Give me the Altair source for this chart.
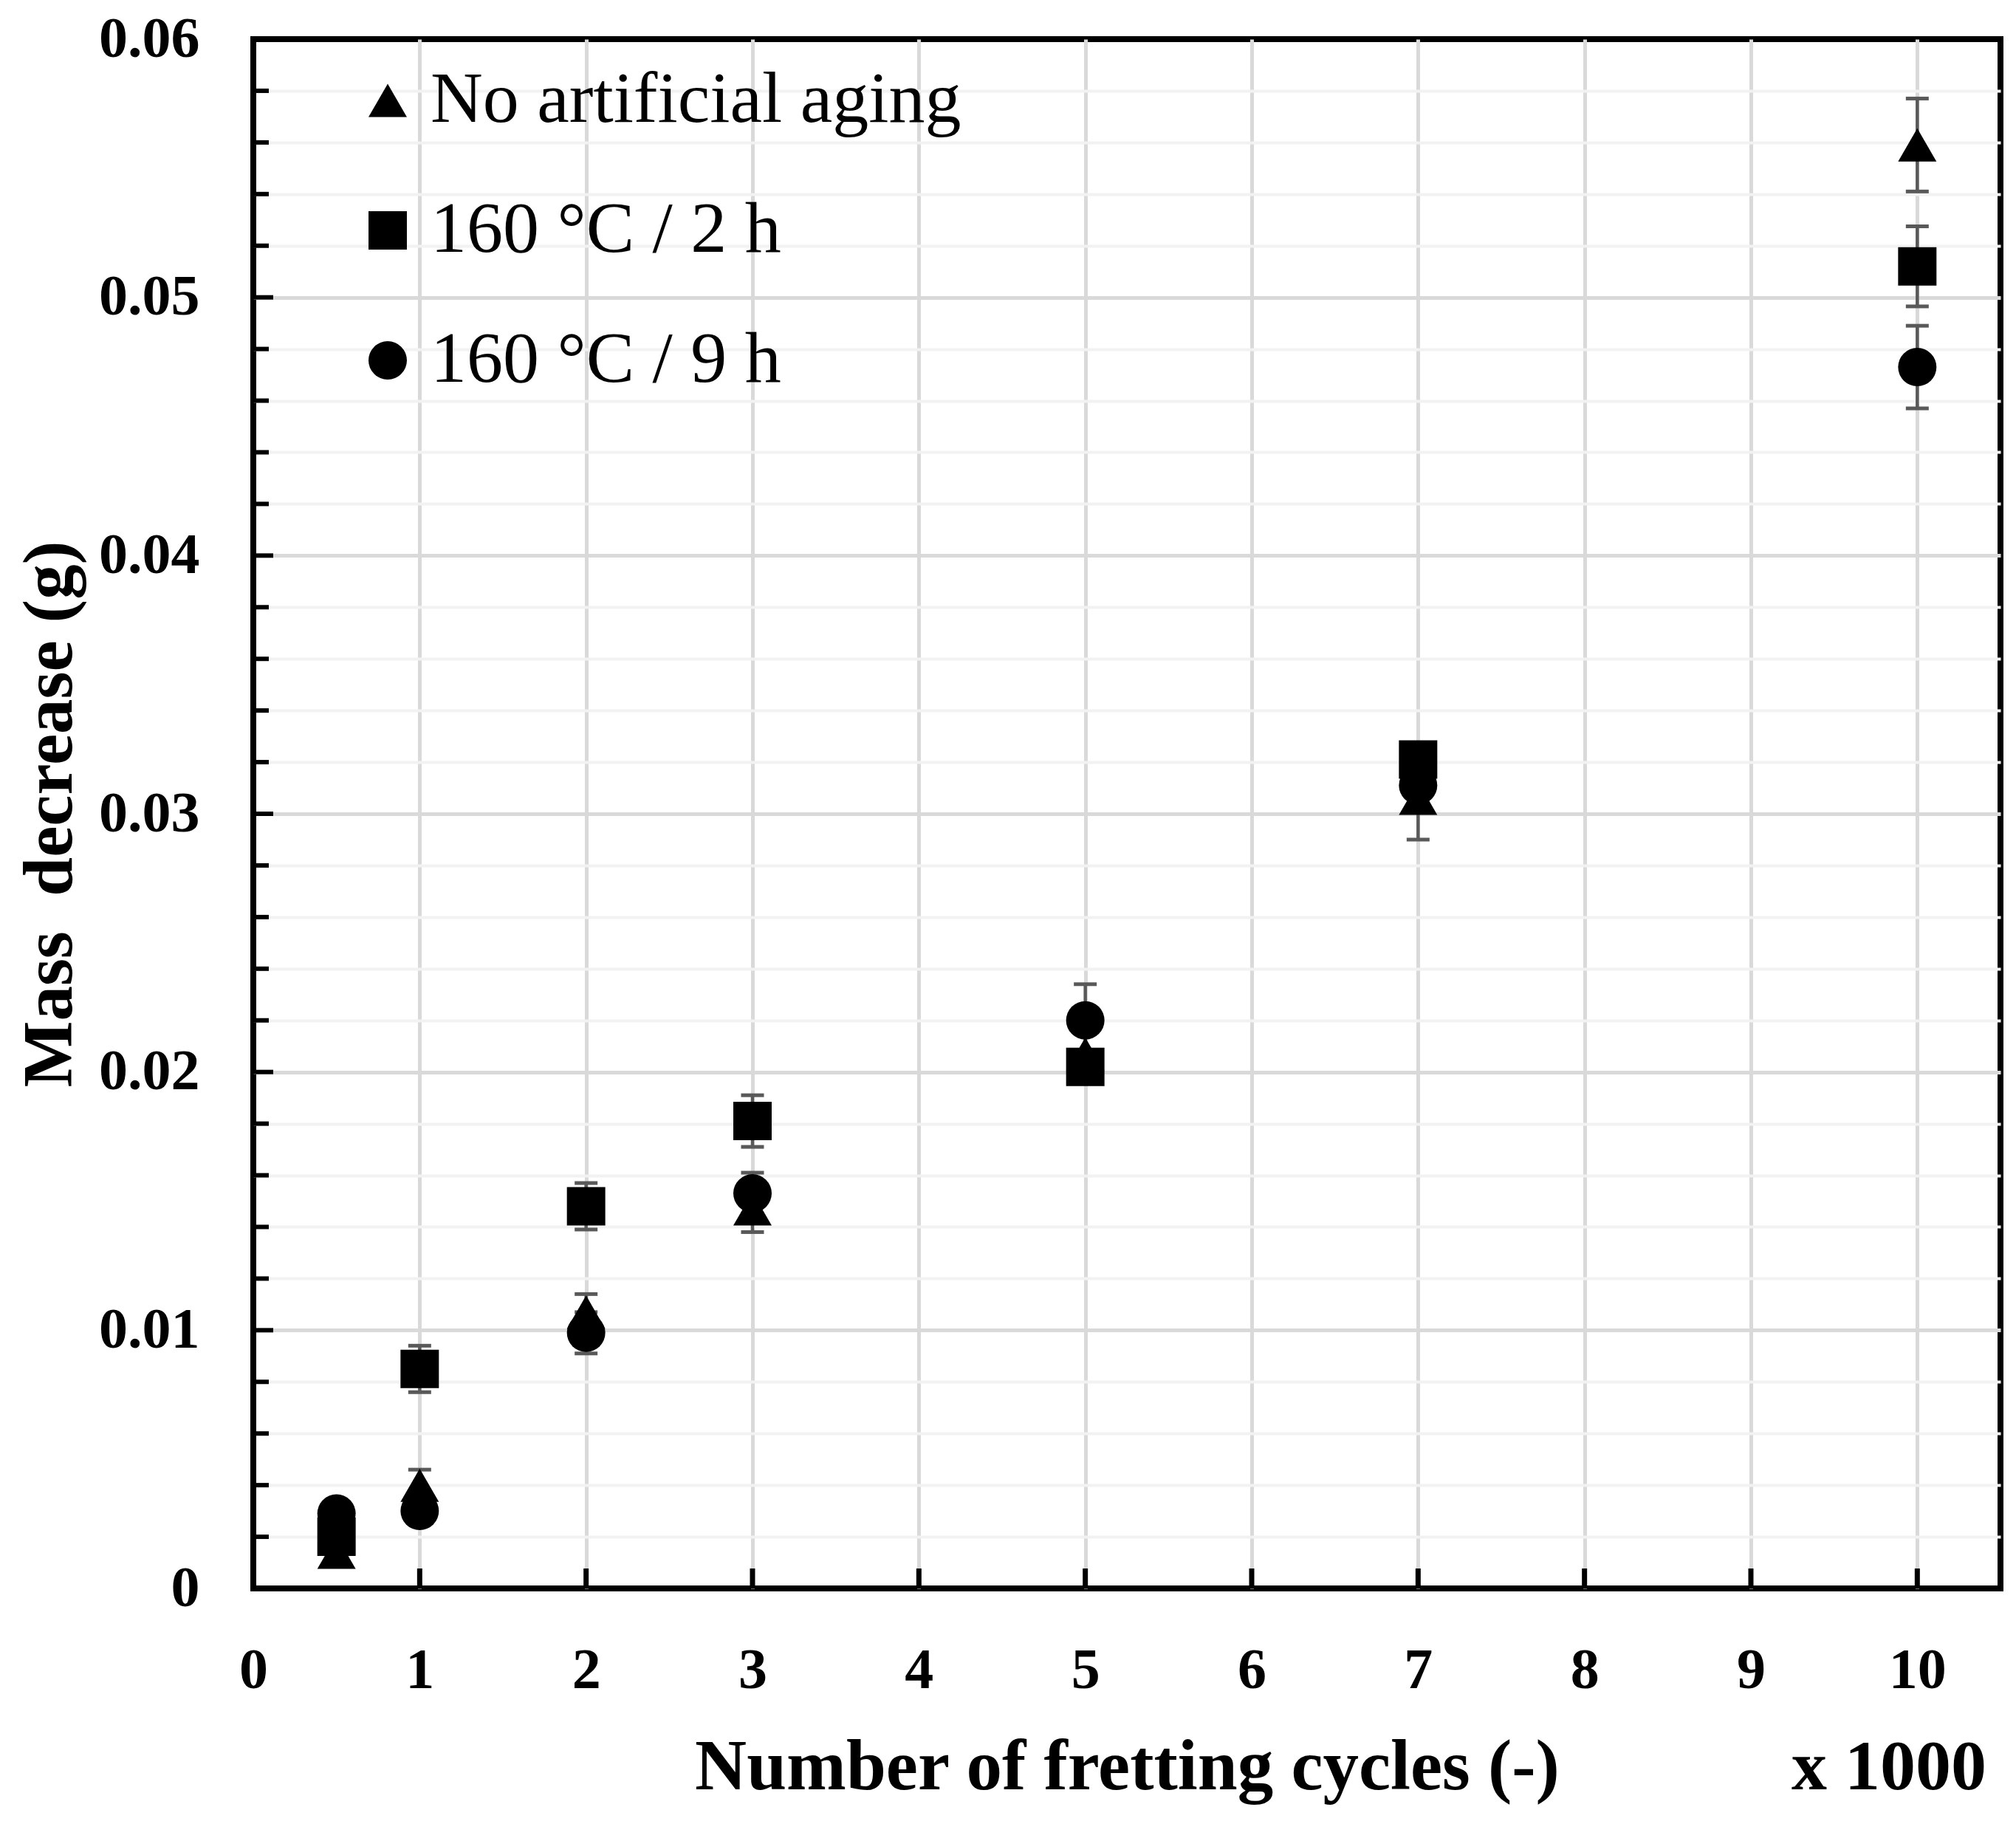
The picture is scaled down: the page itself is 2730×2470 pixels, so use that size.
import altair as alt
import pandas as pd

# ---------------- data ----------------
cycles = [0.5, 1, 2, 3, 5, 7, 10]  # x 1000 fretting cycles
series_names = ["No artificial aging", "160 °C / 2 h", "160 °C / 9 h"]
series_shapes = ["triangle-up", "square", "circle"]

no_aging = [0.0014, 0.0040, 0.0107, 0.0147, 0.0207, 0.0306, 0.0559]
no_aging_err = [0.0003, 0.0006, 0.0007, 0.0009, 0.0010, 0.0016, 0.0018]

aged_2h = [0.0020, 0.0085, 0.0148, 0.0181, 0.0202, 0.0321, 0.0512]
aged_2h_err = [0.0003, 0.0009, 0.0009, 0.0010, 0.0004, 0.0006, 0.00155]

aged_9h = [0.0029, 0.0030, 0.0099, 0.0153, 0.0220, 0.0311, 0.0473]
aged_9h_err = [0.0003, 0.0003, 0.0008, 0.0008, 0.0014, 0.0008, 0.0016]

x_tick_values = [0, 1, 2, 3, 4, 5, 6, 7, 8, 9, 10]
y_grid_values = [round(i * 0.002, 3) for i in range(31)]
y_major_ticks = [0.01, 0.02, 0.03, 0.04, 0.05]
y_minor_ticks = [v for v in y_grid_values
                 if 0 < v < 0.06 and abs(v * 100 - round(v * 100)) > 1e-6]
x_inner_ticks = [1, 2, 3, 4, 5, 6, 7, 8, 9, 10]

rows = []
for name, vals, errs in zip(series_names,
                            [no_aging, aged_2h, aged_9h],
                            [no_aging_err, aged_2h_err, aged_9h_err]):
    for c, v, e in zip(cycles, vals, errs):
        rows.append({"cycles": c, "mass": v, "lo": v - e, "hi": v + e, "series": name})
df = pd.DataFrame(rows)

# ---------------- layout ----------------
W, H = 2366, 2098
FONT = "Liberation Serif"

x_axis = alt.Axis(
    values=x_tick_values, format="d",
    title="Number of fretting cycles (-)",
    titleFont=FONT, titleFontSize=97, titleFontWeight="bold", titleColor="black",
    titlePadding=44,
    labelFont=FONT, labelFontSize=78, labelFontWeight="bold", labelColor="black",
    labelPadding=72, labelOverlap=False, labelFlush=False,
    ticks=False, tickSize=0, domain=False,
    grid=True, gridColor="#d9d9d9", gridWidth=5,
    gridOpacity={"condition": {"test": "datum.value == 0", "value": 0}, "value": 1},
)

y_axis = alt.Axis(
    values=y_grid_values,
    labelExpr=("abs(datum.value*100 - round(datum.value*100)) < 0.01 ? "
               "(datum.value == 0 ? '0' : format(datum.value, '.2f')) : ''"),
    title="Mass\u00a0\u00a0decrease (g)",
    titleFont=FONT, titleFontSize=95, titleFontWeight="bold", titleColor="black",
    titlePadding=27,
    labelFont=FONT, labelFontSize=78, labelFontWeight="bold", labelColor="black",
    labelPadding=73, labelOverlap=False, labelFlush=False,
    ticks=False, tickSize=0, domain=False,
    grid=True,
    gridColor={"condition": {"test": "abs(datum.value*100 - round(datum.value*100)) < 0.01",
                             "value": "#d9d9d9"}, "value": "#f2f2f2"},
    gridWidth={"condition": {"test": "abs(datum.value*100 - round(datum.value*100)) < 0.01",
                             "value": 5}, "value": 4},
    gridOpacity={"condition": {"test": "datum.value == 0 || datum.value > 0.0599", "value": 0},
                 "value": 1},
)

x_scale = alt.Scale(domain=[0, 10.5], nice=False, zero=False)
y_scale = alt.Scale(domain=[0, 0.06], nice=False)


def xenc(field):
    return alt.X(f"{field}:Q", scale=x_scale, axis=x_axis)


def yenc(field):
    return alt.Y(f"{field}:Q", scale=y_scale, axis=y_axis)


base = alt.Chart(df)
ERR_COLOR = "#595959"

whiskers = base.mark_rule(color=ERR_COLOR, strokeWidth=4.5).encode(
    x=xenc("cycles"), y=yenc("lo"), y2="hi:Q")
caps_lo = base.mark_tick(orient="horizontal", color=ERR_COLOR, size=31,
                         thickness=5, opacity=1).encode(x=xenc("cycles"), y=yenc("lo"))
caps_hi = base.mark_tick(orient="horizontal", color=ERR_COLOR, size=31,
                         thickness=5, opacity=1).encode(x=xenc("cycles"), y=yenc("hi"))

points = base.mark_point(filled=True, opacity=1, color="black", size=2700).encode(
    x=xenc("cycles"),
    y=yenc("mass"),
    shape=alt.Shape(
        "series:N",
        scale=alt.Scale(domain=series_names, range=series_shapes),
        legend=alt.Legend(
            title=None, orient="none", legendX=133, legendY=34,
            labelFont=FONT, labelFontSize=98, labelColor="black", labelLimit=0,
            symbolSize=2700, symbolFillColor="black", symbolStrokeColor="black",
            symbolStrokeWidth=0, symbolOpacity=1,
            rowPadding=78, labelOffset=9, padding=0,
        ),
    ),
)

# inward axis ticks
ytick_major = alt.Chart(pd.DataFrame({"mass": y_major_ticks})).mark_rule(
    color="black", strokeWidth=6).encode(y=yenc("mass"), x=alt.value(0), x2=alt.value(27))
ytick_minor = alt.Chart(pd.DataFrame({"mass": y_minor_ticks})).mark_rule(
    color="black", strokeWidth=6).encode(y=yenc("mass"), x=alt.value(0), x2=alt.value(21))
xtick = alt.Chart(pd.DataFrame({"cycles": x_inner_ticks})).mark_rule(
    color="black", strokeWidth=7).encode(x=xenc("cycles"), y=alt.value(H), y2=alt.value(H - 27))

multiplier = alt.Chart(pd.DataFrame({"t": ["x 1000"]})).mark_text(
    font=FONT, fontSize=96, fontWeight="bold", color="black",
    align="right", baseline="alphabetic").encode(
    text="t:N", x=alt.value(2347), y=alt.value(2370))

chart = alt.layer(
    ytick_minor, ytick_major, xtick, whiskers, caps_lo, caps_hi, points, multiplier
).properties(
    width=W, height=H,
    autosize=alt.AutoSizeParams(type="none"),
    padding={"left": 335, "top": 45, "right": 5, "bottom": 300},
    background="white",
).configure_view(
    stroke="black", strokeWidth=8
)

chart.save("out.html", embed_options={"renderer": "svg", "actions": False})
